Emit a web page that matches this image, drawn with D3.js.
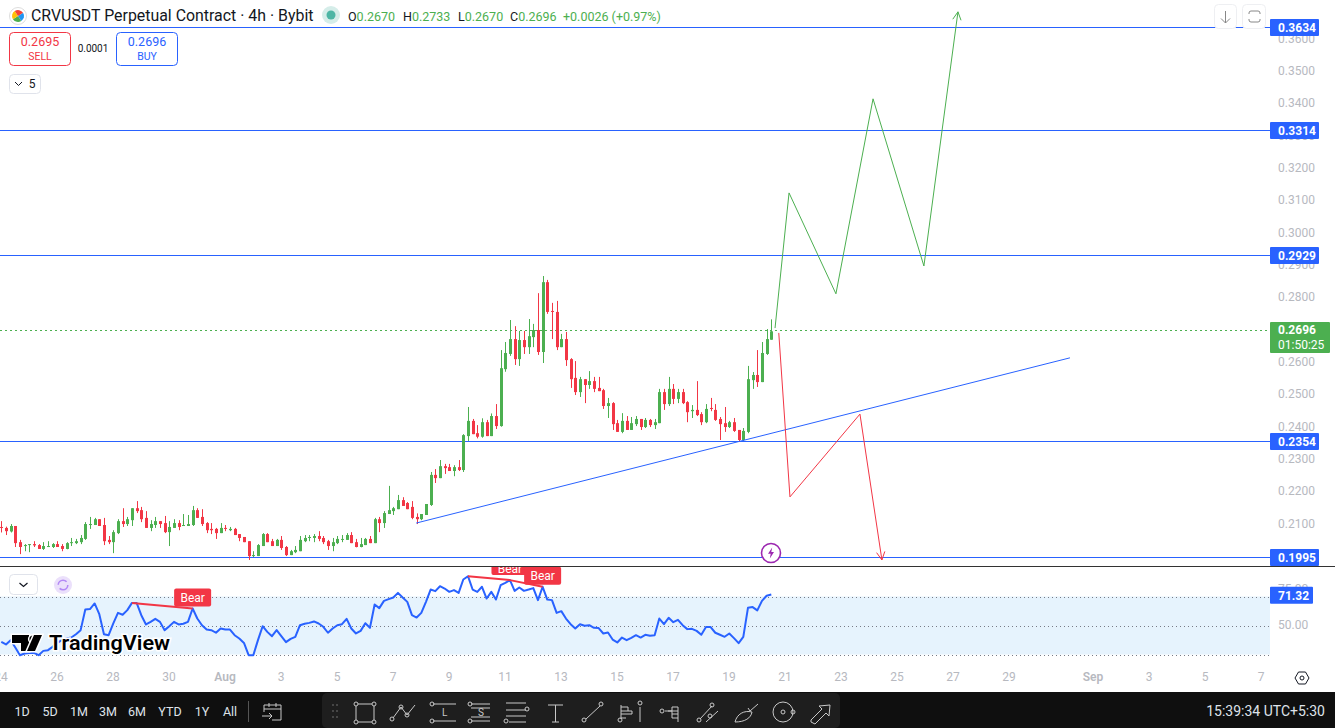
<!DOCTYPE html>
<html><head><meta charset="utf-8"><title>CRVUSDT</title>
<script src="https://cdn.jsdelivr.net/npm/d3@7"></script>
<style>
html,body{margin:0;padding:0;background:#fff;overflow:hidden}
svg{display:block}
text{font-family:Roboto,"Noto Sans",sans-serif}
</style></head><body>
<svg id="c" width="1335" height="728"></svg>
<script>
const opens=[.2091,.2088,.2077,.2094,.2044,.2032,.2035,.2038,.2035,.2023,.2029,.2029,.2038,.2032,.2023,.2041,.2041,.2044,.2054,.2097,.2097,.2115,.2097,.2051,.2044,.2072,.2109,.2100,.2112,.2149,.2143,.2119,.2088,.2097,.2109,.2103,.2075,.2088,.2103,.2094,.2094,.2097,.2143,.2122,.2103,.2085,.2085,.2072,.2088,.2081,.2085,.2069,.2060,.2047,.2001,.2001,.2032,.2069,.2047,.2032,.2051,.2029,.2004,.2013,.2016,.2047,.2057,.2057,.2063,.2057,.2047,.2032,.2041,.2051,.2051,.2066,.2044,.2029,.2035,.2054,.2041,.2115,.2103,.2131,.2140,.2146,.2174,.2165,.2153,.2122,.2115,.2128,.2159,.2252,.2242,.2279,.2276,.2264,.2276,.2267,.2372,.2419,.2381,.2370,.2415,.2372,.2434,.2403,.2579,.2626,.2672,.2610,.2669,.2647,.2678,.2700,.2632,.2848,.2759,.2756,.2647,.2672,.2610,.2552,.2508,.2548,.2530,.2542,.2521,.2514,.2465,.2474,.2412,.2385,.2419,.2391,.2409,.2425,.2400,.2422,.2406,.2412,.2508,.2471,.2518,.2487,.2508,.2477,.2449,.2453,.2440,.2415,.2459,.2453,.2425,.2412,.2400,.2415,.2391,.2360,.2385,.2545,.2561,.2539,.2626,.2670];
const closes=[.2088,.2078,.2094,.2041,.2029,.2035,.2038,.2034,.2023,.2032,.2032,.2038,.2029,.2023,.2041,.2044,.2047,.2057,.2100,.2100,.2115,.2094,.2047,.2044,.2075,.2109,.2100,.2115,.2149,.2140,.2115,.2088,.2100,.2109,.2100,.2075,.2091,.2103,.2091,.2097,.2100,.2143,.2119,.2100,.2081,.2081,.2072,.2088,.2085,.2085,.2066,.2057,.2044,.2001,.2004,.2035,.2069,.2044,.2032,.2051,.2026,.2004,.2016,.2020,.2051,.2057,.2060,.2063,.2054,.2044,.2032,.2044,.2054,.2054,.2066,.2041,.2029,.2038,.2054,.2041,.2115,.2103,.2134,.2143,.2149,.2174,.2156,.2146,.2119,.2115,.2131,.2162,.2252,.2242,.2279,.2273,.2264,.2276,.2267,.2375,.2419,.2378,.2370,.2415,.2372,.2434,.2403,.2582,.2629,.2672,.2610,.2669,.2647,.2681,.2700,.2632,.2848,.2756,.2756,.2647,.2672,.2607,.2548,.2508,.2548,.2530,.2542,.2518,.2511,.2465,.2474,.2409,.2385,.2419,.2391,.2412,.2425,.2400,.2422,.2406,.2415,.2508,.2471,.2518,.2487,.2508,.2474,.2446,.2453,.2437,.2415,.2456,.2456,.2422,.2409,.2400,.2415,.2388,.2360,.2388,.2548,.2561,.2539,.2629,.2672,.2696];
const highs=[.2109,.2092,.2100,.2094,.2051,.2038,.2038,.2047,.2038,.2044,.2047,.2041,.2047,.2038,.2044,.2057,.2054,.2066,.2106,.2122,.2119,.2115,.2119,.2063,.2081,.2115,.2149,.2122,.2149,.2171,.2153,.2140,.2112,.2122,.2109,.2125,.2109,.2115,.2112,.2131,.2128,.2156,.2149,.2146,.2106,.2103,.2088,.2103,.2097,.2091,.2088,.2069,.2060,.2047,.2016,.2038,.2072,.2072,.2054,.2054,.2063,.2032,.2020,.2032,.2063,.2066,.2066,.2069,.2078,.2063,.2051,.2057,.2063,.2066,.2072,.2075,.2054,.2057,.2057,.2063,.2119,.2122,.2140,.2218,.2153,.2190,.2183,.2168,.2171,.2133,.2131,.2162,.2261,.2270,.2298,.2286,.2286,.2282,.2298,.2378,.2462,.2425,.2406,.2427,.2422,.2442,.2471,.2638,.2663,.2731,.2712,.2697,.2697,.2734,.2719,.2814,.2867,.2855,.2784,.2790,.2688,.2694,.2613,.2604,.2555,.2548,.2573,.2555,.2555,.2518,.2490,.2477,.2422,.2443,.2434,.2431,.2434,.2425,.2428,.2425,.2425,.2518,.2518,.2555,.2533,.2518,.2518,.2480,.2468,.2542,.2446,.2471,.2490,.2471,.2431,.2462,.2419,.2428,.2391,.2397,.2589,.2570,.2638,.2663,.2703,.2733];
const lows=[.2074,.2066,.2074,.2029,.2007,.2016,.2013,.2029,.2023,.2020,.2029,.2026,.2029,.2016,.2022,.2032,.2038,.2038,.2051,.2085,.2097,.2094,.2035,.2038,.2010,.2069,.2091,.2094,.2094,.2134,.2106,.2088,.2078,.2088,.2088,.2072,.2032,.2088,.2081,.2094,.2094,.2094,.2119,.2094,.2072,.2069,.2054,.2072,.2078,.2078,.2066,.2047,.2044,.1989,.1998,.2001,.2032,.2044,.2032,.2032,.2020,.2001,.2004,.2010,.2016,.2044,.2047,.2044,.2047,.2038,.2020,.2016,.2038,.2044,.2051,.2041,.2028,.2028,.2035,.2041,.2041,.2075,.2088,.2131,.2128,.2146,.2156,.2146,.2115,.2100,.2112,.2128,.2156,.2227,.2242,.2255,.2264,.2248,.2264,.2261,.2357,.2378,.2365,.2367,.2372,.2372,.2394,.2401,.2571,.2620,.2592,.2589,.2626,.2626,.2647,.2623,.2598,.2750,.2672,.2638,.2647,.2589,.2521,.2499,.2493,.2474,.2518,.2508,.2511,.2456,.2428,.2391,.2385,.2381,.2391,.2391,.2403,.2391,.2397,.2400,.2394,.2412,.2453,.2465,.2471,.2474,.2471,.2415,.2428,.2434,.2406,.2412,.2449,.2419,.2360,.2385,.2397,.2385,.2354,.2357,.2381,.2518,.2524,.2539,.2623,.2670];
const rsiValues=[38.7,36.9,39.9,34.8,29.5,30.7,31.1,31.1,29.5,32.5,33.0,35.3,38.0,39.9,41.0,41.7,44.0,46.8,61.0,61.3,65.2,57.8,44.0,43.3,51.4,58.7,57.4,60.6,65.6,65.6,57.1,50.7,52.5,54.6,52.5,46.8,49.5,52.5,50.7,51.2,52.5,61.7,54.8,50.2,47.2,46.8,45.0,47.9,47.2,47.2,43.3,41.0,38.0,29.5,29.5,39.9,49.5,45.6,42.6,46.8,42.6,38.5,40.8,42.2,50.2,51.2,51.8,52.8,51.4,49.1,45.0,47.9,50.2,50.9,54.6,47.9,44.5,46.3,51.6,48.4,64.5,62.0,67.0,68.2,69.3,72.5,69.3,66.3,57.1,55.5,58.7,66.3,74.8,73.7,77.1,75.5,73.2,74.4,72.5,81.7,84.0,74.8,73.2,76.7,68.6,73.2,67.9,77.8,79.4,81.3,73.9,76.2,73.9,74.8,75.8,67.5,76.7,67.9,67.5,58.7,59.9,54.8,50.9,47.9,50.9,49.8,50.2,48.4,48.2,44.5,45.2,40.3,38.3,41.7,39.9,41.5,43.3,41.7,43.6,42.9,43.3,54.8,50.9,55.3,52.3,53.9,50.2,47.5,47.7,46.3,43.6,48.9,48.9,45.0,43.6,42.2,44.5,41.3,37.8,42.2,62.2,62.7,60.4,67.0,70.5,71.32];
const levels=[.3634,.3314,.2929,.2354,.1995];
const levelLabels=["0.3634","0.3314","0.2929","0.2354","0.1995"];
const priceTicks=[.21,.22,.23,.24,.25,.26,.27,.28,.29,.30,.31,.32,.33,.34,.35,.36];
const rsiTicks=[75,50];
const rsiBands=[70,50,30];
const dateTickValues=["2024-07-24","2024-07-26","2024-07-28","2024-07-30","2024-08-01","2024-08-03","2024-08-05","2024-08-07","2024-08-09","2024-08-11","2024-08-13","2024-08-15","2024-08-17","2024-08-19","2024-08-21","2024-08-23","2024-08-25","2024-08-27","2024-08-29","2024-09-01","2024-09-03","2024-09-05","2024-09-07"];
const dateTickLabels=["24","26","28","30","Aug","3","5","7","9","11","13","15","17","19","21","23","25","27","29","Sep","3","5","7"];
// projection paths: [candle position, price]
const greenPathIdx=[165.8,168.8,178.85,186.8,197.7,205.0];
const greenPathPrice=[.2706,.3124,.2812,.3415,.2898,.3684];
const redPathIdx=[166.6,169.0,184.0,188.7];
const redPathPrice=[.2691,.2184,.2440,.1989];
const trendIdx=[88.9,229.0];
const trendPrice=[.2103,.2614];
const bearFrom=[28,100,109];
const bearTo=[41,109,116];
const rangeLabels=["1D","5D","1M","3M","6M","YTD","1Y","All"];
const lastPrice=.2696;

const GREEN="#4caf50",RED="#f23645",BLUE="#2962ff",GRAY="#b7b9bf";
const svg=d3.select("#c");
const defs=svg.append("defs");
defs.append("clipPath").attr("id","main").append("rect").attr("x",0).attr("y",0).attr("width",1270).attr("height",566);
defs.append("clipPath").attr("id","rsi").append("rect").attr("x",0).attr("y",567).attr("width",1270).attr("height",100);

const H4=4*3600e3;
const t0=Date.UTC(2024,6,24,1,30);
const timeAt=i=>new Date(t0+i*H4);
const tEnd=Date.UTC(2024,8,7);
const x=d3.scaleUtc().domain([t0,tEnd]).range([1.3,1.3+(tEnd-t0)/864e5*28.0]);
const xi=i=>x(timeAt(i));
const y=d3.scaleLinear().domain([.1995,.3634]).range([558,28]);
const yr=d3.scaleLinear().domain([30,70]).range([654.5,596.5]);

svg.append("rect").attr("width",1335).attr("height",728).attr("fill","#fff");

// RSI band
svg.append("rect").attr("x",0).attr("width",1270).attr("y",yr(70)).attr("height",yr(30)-yr(70)).attr("fill","#e6f3fd");
svg.selectAll(".band").data(rsiBands).join("line").attr("x1",0).attr("x2",1270)
 .attr("y1",d=>Math.round(yr(d))+.5).attr("y2",d=>Math.round(yr(d))+.5)
 .attr("stroke","#787b86").attr("stroke-dasharray","1 3");

// Price axis
const ay=svg.append("g").attr("transform","translate(1276,-0.7)").call(d3.axisRight(y).tickValues(priceTicks).tickFormat(d3.format(".4f")).tickSize(0).tickPadding(0));
ay.select(".domain").remove();
ay.selectAll("text").attr("fill",GRAY).attr("font-size",12).attr("font-family","Roboto").attr("x",2);
const ar=svg.append("g").attr("transform","translate(1276,-0.7)").call(d3.axisRight(yr).tickValues(rsiTicks).tickFormat(d3.format(".2f")).tickSize(0).tickPadding(0));
ar.select(".domain").remove();
ar.selectAll("text").attr("fill",GRAY).attr("font-size",12).attr("font-family","Roboto").attr("x",2);

// Time axis
const ax=svg.append("g").attr("transform","translate(1,677)").call(d3.axisBottom(x).tickValues(dateTickValues.map(d=>new Date(d+"T00:00:00Z"))).tickFormat((d,i)=>dateTickLabels[i]).tickSize(0).tickPadding(0));
ax.select(".domain").remove();
ax.selectAll("text").attr("fill",GRAY).attr("font-size",12).attr("font-family","Roboto").attr("y",0).attr("dy",".35em")
 .attr("font-weight",(d,i)=>/[A-Z]/.test(dateTickLabels[i])?600:400);

// Levels & current price
const main=svg.append("g").attr("clip-path","url(#main)");
main.selectAll(".lvl").data(levels).join("line").attr("x1",0).attr("x2",1270)
 .attr("y1",d=>Math.round(y(d))-.5).attr("y2",d=>Math.round(y(d))-.5).attr("stroke",BLUE).attr("stroke-width",1);
main.append("line").attr("x1",0).attr("x2",1270).attr("y1",Math.round(y(lastPrice))-.5).attr("y2",Math.round(y(lastPrice))-.5)
 .attr("stroke",GREEN).attr("stroke-dasharray","2 3");

// Candles
const idx=d3.range(opens.length);
const col=i=>closes[i]>=opens[i]?GREEN:RED;
main.selectAll(".wick").data(idx).join("rect").attr("x",i=>Math.round(xi(i))).attr("width",1)
 .attr("y",i=>y(highs[i])).attr("height",i=>y(lows[i])-y(highs[i])).attr("fill",col);
main.selectAll(".body").data(idx).join("rect").attr("x",i=>Math.round(xi(i))-1).attr("width",3)
 .attr("y",i=>y(Math.max(opens[i],closes[i]))).attr("height",i=>Math.max(1,Math.abs(y(opens[i])-y(closes[i])))).attr("fill",col);

// Trend line + projections
const ln=d3.line().x(d=>xi(d[0])).y(d=>y(d[1]));
function arrowHead(g,a,b,color){
  const pa=[xi(a[0]),y(a[1])],pb=[xi(b[0]),y(b[1])];
  const ang=Math.atan2(pb[1]-pa[1],pb[0]-pa[0]),s=9,w=.48;
  const pts=[[pb[0]-s*Math.cos(ang-w),pb[1]-s*Math.sin(ang-w)],pb,[pb[0]-s*Math.cos(ang+w),pb[1]-s*Math.sin(ang+w)]];
  g.append("path").attr("d",d3.line()(pts)).attr("fill","none").attr("stroke",color).attr("stroke-width",1);
}
const topDraw=svg.append("g");
const trendPts=trendIdx.map((d,i)=>[d,trendPrice[i]]);
main.append("path").attr("d",ln(trendPts)).attr("fill","none").attr("stroke",BLUE).attr("stroke-width",1);
const gPts=greenPathIdx.map((d,i)=>[d,greenPathPrice[i]]);
const rPts=redPathIdx.map((d,i)=>[d,redPathPrice[i]]);
topDraw.append("path").attr("d",ln(gPts)).attr("fill","none").attr("stroke",GREEN).attr("stroke-width",1);
arrowHead(topDraw,gPts[gPts.length-2],gPts[gPts.length-1],GREEN);
topDraw.append("path").attr("d",ln(rPts)).attr("fill","none").attr("stroke",RED).attr("stroke-width",1);
arrowHead(topDraw,rPts[rPts.length-2],rPts[rPts.length-1],RED);

// Lightning badge
const bolt=svg.append("g").attr("transform","translate(771,553)");
bolt.append("circle").attr("r",9.5).attr("fill","#fff").attr("stroke","#9c27b0").attr("stroke-width",1.6);
bolt.append("path").attr("d","M1.2,-5.5 L-3,0.8 L-0.3,0.8 L-1.2,5.5 L3,-1 L0.3,-1 Z").attr("fill","#9c27b0");

// Pane divider
svg.append("rect").attr("x",0).attr("y",566).attr("width",1335).attr("height",1).attr("fill","#333");

// RSI line
const rsiG=svg.append("g").attr("clip-path","url(#rsi)");
rsiG.append("path").attr("d",d3.line().x((d,i)=>xi(i)).y(d=>yr(d))(rsiValues)).attr("fill","none").attr("stroke",BLUE).attr("stroke-width",2).attr("stroke-linejoin","round");
const bearG=rsiG.append("g");
bearFrom.forEach((a,k)=>{
  const b=bearTo[k];
  bearG.append("line").attr("x1",xi(a)).attr("y1",yr(rsiValues[a])).attr("x2",xi(b)).attr("y2",yr(rsiValues[b])).attr("stroke",RED).attr("stroke-width",2);
});
bearFrom.forEach((a,k)=>{
  const b=bearTo[k],cx=xi(b),bottom=yr(rsiValues[b])-(k===1?5:2);
  bearG.append("rect").attr("x",cx-18.5).attr("width",37).attr("y",bottom-18).attr("height",18).attr("rx",2).attr("fill",RED);
  bearG.append("text").attr("x",cx).attr("y",bottom-(k===1?6:9)).attr("dy",".36em").attr("text-anchor","middle").attr("fill","#fff").attr("font-size",12).attr("font-family","Roboto").text("Bear");
});

// Axis labels
function tag(yc,h,w,fill,lines){
  const g=svg.append("g");
  g.append("rect").attr("x",1270).attr("y",yc-h/2).attr("width",w).attr("height",h).attr("fill",fill).attr("rx",1);
  lines.forEach((t,i)=>g.append("text").attr("x",1278).attr("y",yc-(lines.length-1)*7.5+i*15).attr("dy",".36em").attr("fill","#fff").attr("font-size",12).attr("font-weight",i===0?700:400).attr("font-family","Roboto").text(t));
}
levels.forEach((d,i)=>tag(Math.round(y(d))-.5,17,49,BLUE,[levelLabels[i]]));
tag(337.5,31,60,GREEN,[d3.format(".4f")(lastPrice),"01:50:25"]);
tag(yr(rsiValues[165])+.7,17,43,BLUE,[d3.format(".2f")(rsiValues[165])]);

// Header
const hdr=svg.append("g");
hdr.append("circle").attr("cx",18).attr("cy",16).attr("r",8.5).attr("fill","#fff").attr("stroke","#ddd");
[["#2196f3",0],["#4caf50",1],["#ffc107",2],["#f44336",3]].forEach(([c,k])=>{
  hdr.append("path").attr("d",d3.arc()({innerRadius:0,outerRadius:6,startAngle:k*1.57+1,endAngle:(k+1)*1.57+1})).attr("transform","translate(18,16)").attr("fill",c);
});
hdr.append("text").attr("x",31).attr("y",21).attr("font-size",15.9).attr("fill","#131722").text("CRVUSDT Perpetual Contract · 4h · Bybit");
hdr.append("circle").attr("cx",331).attr("cy",15).attr("r",9).attr("fill","#d5ede9");
hdr.append("circle").attr("cx",331).attr("cy",15).attr("r",4.5).attr("fill","#4db6a5");
const ohlc=[["O","0.2670",348],["H","0.2733",403],["L","0.2670",458],["C","0.2696",510]];
ohlc.forEach(([a,b,px])=>{
  const t=hdr.append("text").attr("x",px).attr("y",21).attr("font-size",12.5);
  t.append("tspan").attr("fill","#131722").text(a);
  t.append("tspan").attr("fill",GREEN).text(b);
});
hdr.append("text").attr("x",563).attr("y",21).attr("font-size",12.5).attr("fill",GREEN).text("+0.0026 (+0.97%)");

function box(xx,yy,w,h,stroke){return hdr.append("rect").attr("x",xx+.5).attr("y",yy+.5).attr("width",w).attr("height",h).attr("rx",4).attr("fill","#fff").attr("stroke",stroke);}
box(9,32,61,33,RED);box(116,32,61,33,BLUE);
[[40,"0.2695",RED,"SELL"],[147,"0.2696",BLUE,"BUY"]].forEach(([cx,p,c,t])=>{
  hdr.append("text").attr("x",cx).attr("y",46).attr("text-anchor","middle").attr("font-size",12.5).attr("fill",c).text(p);
  hdr.append("text").attr("x",cx).attr("y",60).attr("text-anchor","middle").attr("font-size",10.5).attr("fill",c).text(t);
});
hdr.append("text").attr("x",93).attr("y",52).attr("text-anchor","middle").attr("font-size",10).attr("fill","#131722").text("0.0001");
box(9,74,31,19,"#e0e3eb");
hdr.append("path").attr("d","M15,82 L18.5,85.5 L22,82").attr("fill","none").attr("stroke","#131722");
hdr.append("text").attr("x",32).attr("y",88).attr("text-anchor","middle").attr("font-size",12).attr("fill","#131722").text("5");

// Top-right buttons
box(1214,4,22,24,"#eeeff2");box(1242,4,23,24,"#eeeff2");
hdr.append("path").attr("d","M1225.5,11 V23 M1221,18.5 L1225.5,23 L1230,18.5").attr("fill","none").attr("stroke","#888");
hdr.append("path").attr("d","M1249,14 V13 a2,2 0 0 1 2,-2 H1258 a2,2 0 0 1 2,2 V14 M1249,19 V20 a2,2 0 0 0 2,2 H1258 a2,2 0 0 0 2,-2 V19").attr("fill","none").attr("stroke","#888");

// RSI pane controls
box(9,574,28,20,"#e0e3eb");
hdr.append("path").attr("d","M19.5,583 L23.5,586.5 L27.5,583").attr("fill","none").attr("stroke","#131722").attr("stroke-width",1.2);
hdr.append("circle").attr("cx",63).attr("cy",585).attr("r",9).attr("fill","#ebe0fb");
hdr.append("circle").attr("cx",63).attr("cy",585).attr("r",4.8).attr("fill","none").attr("stroke","#b388f5").attr("stroke-width",1.6).attr("stroke-dasharray","11 4");

// TradingView logo
const logo=svg.append("g");
const hal=p=>p.attr("stroke","#fff").attr("stroke-width",3).attr("paint-order","stroke");
hal(logo.append("path").attr("d","M12,635 H29 V651 H21 V643 H12 Z").attr("fill","#000"));
hal(logo.append("circle").attr("cx",33).attr("cy",639).attr("r",3.6).attr("fill","#000"));
hal(logo.append("path").attr("d","M34,635 H42 L35,651 H27 Z").attr("fill","#000"));
hal(logo.append("text").attr("x",49).attr("y",650).attr("font-size",20).attr("font-weight",600).attr("font-family","Inter,Roboto").attr("textLength",121).attr("lengthAdjust","spacingAndGlyphs").attr("fill","#000").text("TradingView"));

// Settings hexagon
svg.append("path").attr("d","M1295,678 L1298.5,672 H1305.5 L1309,678 L1305.5,684 H1298.5 Z").attr("fill","none").attr("stroke","#131722");
svg.append("circle").attr("cx",1302).attr("cy",678).attr("r",2).attr("fill","none").attr("stroke","#131722");

// Bottom toolbar
const tb=svg.append("g");
tb.append("rect").attr("x",0).attr("y",692).attr("width",1335).attr("height",36).attr("fill","#0f0f0f");
tb.append("rect").attr("x",322).attr("y",693).attr("width",518).attr("height",35).attr("rx",5).attr("fill","#1e1e1e");
const rangePos=[22,50,79,108,137,170,202,230];
rangeLabels.forEach((t,i)=>tb.append("text").attr("x",rangePos[i]).attr("y",716).attr("text-anchor","middle").attr("font-size",12.5).attr("fill","#dfe3ea").text(t));
tb.append("line").attr("x1",248.5).attr("x2",248.5).attr("y1",701).attr("y2",722).attr("stroke","#555");
tb.append("text").attr("x",1325).attr("y",716).attr("text-anchor","end").attr("font-size",14).attr("fill","#dfe3ea").text("15:39:34 UTC+5:30");
const icons=tb.append("g").attr("fill","none").attr("stroke","#c8c8c8").attr("stroke-width",1);
const ic=(d)=>icons.append("path").attr("d",d);
const dot=(cx,cy)=>icons.append("circle").attr("cx",cx).attr("cy",cy).attr("r",2);
ic("M264,705 H281 V720 H272 M264,705 V712 M264,709 H281 M269,703 V707 M276,703 V707 M262,716 H272 M269,713 L272,716 L269,719");
[[333,703],[337,703],[333,709],[337,709],[333,715],[337,715]].forEach(([a,b])=>tb.append("circle").attr("cx",a).attr("cy",b+2).attr("r",1).attr("fill","#555"));
ic("M358,704 H372 M374,706 V720 M372,722 H358 M356,720 V706");dot(356,704);dot(374,704);dot(356,722);dot(374,722);
ic("M393,718 L401,707 L407,715 L415,705");dot(392,719);dot(401,707);dot(407,715);
ic("M433,704 H456 M433,721 H456");dot(432,704);dot(432,721);icons.append("text").attr("x",442).attr("y",716).attr("font-size",10).attr("fill","#c8c8c8").attr("stroke","none").text("L");
ic("M471,704 H490 M471,708 H490 M471,717 H490 M471,721 H490");dot(470,704);dot(470,721);icons.append("text").attr("x",478).attr("y",716).attr("font-size",10).attr("fill","#c8c8c8").attr("stroke","none").text("S");
ic("M506,703 H526 M506,710 H526 M506,716 H526 M509,722 H526");dot(527,709);dot(506,721);
ic("M548,705 H563 M555.5,705 V722 M552,722 H559");
ic("M586,719 L600,706");dot(584,720);dot(601,704);
ic("M621,705 V719 M621,707 H628 V711 M621,711 H632 V714 H621 M621,718 H626 M640,707 V722");dot(620,720);dot(640,703);
ic("M665,711 H672 M672,707 H678 V722 M672,707 V718 H678 M668,711 H678 M672,714 H678");dot(662,711);
ic("M700,719 L712,706 M706,722 L718,711");dot(699,720);dot(712,705);dot(710,716);
ic("M735,722 C737,714 744,710 752,712 C751,718 745,722 735,722 Z M748,708 L750,711 L758,704");
icons.append("circle").attr("cx",783).attr("cy",712).attr("r",10);dot(783,712);dot(793,712);
ic("M811,722 L815,724 L826,713 L829,716 L830,705 L819,706 L822,709 L811,720 Z");
</script>
</body></html>
